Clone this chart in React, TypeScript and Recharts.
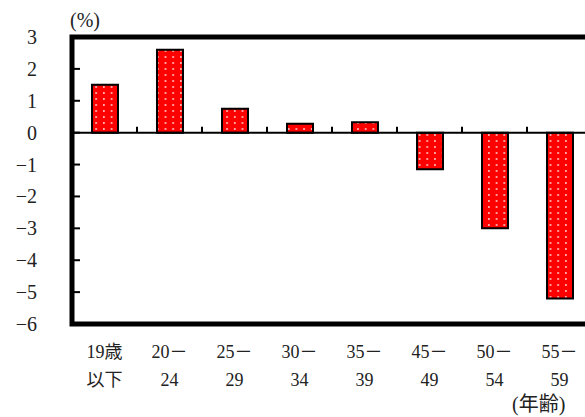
import { BarChart, Bar, XAxis, YAxis, ReferenceLine, ReferenceArea } from "recharts";

// 年齢階級別の変化率 (%)
const ageTop = ["19歳", "20－", "25－", "30－", "35－", "45－", "50－", "55－"];
const ageBottom = ["以下", "24", "29", "34", "39", "49", "54", "59"];
const changeRate = [1.5, 2.6, 0.75, 0.28, 0.33, -1.15, -3.0, -5.2];
const yTicks = [3, 2, 1, 0, -1, -2, -3, -4, -5, -6];

const data = ageTop.map((top, i) => ({
  age: `${top}${ageBottom[i]}`,
  value: changeRate[i],
}));

const FONT = "'Liberation Serif', 'Noto Sans CJK JP', serif";
const Y_TICK_MARGIN = 35;

function AgeTick(props: any) {
  const { x, y, index } = props;
  return (
    <text x={x} y={y} textAnchor="middle" style={{ fontFamily: FONT }} fontSize={18} fill="#222">
      <tspan x={x} dy={34}>{ageTop[index]}</tspan>
      <tspan x={x} dy={28}>{ageBottom[index]}</tspan>
    </text>
  );
}

// y tick: label on the left, short tick pointing into the plot
function ValueTick(props: any) {
  const { x, y, payload } = props;
  const edge = x + Y_TICK_MARGIN;
  return (
    <g>
      <line x1={edge} x2={edge + 8} y1={y} y2={y} stroke="#000" strokeWidth={2} />
      <text x={x} y={y} dy={7} textAnchor="end" style={{ fontFamily: FONT }} fontSize={20} fill="#222">
        {String(payload.value).replace("-", "−")}
      </text>
    </g>
  );
}

// zero line with small upward ticks at category boundaries
function ZeroLine(props: any) {
  const { x1, y1, x2, y2 } = props;
  const n = data.length;
  const step = (x2 - x1) / n;
  const ticks = [];
  for (let i = 1; i < n; i++) {
    const tx = x1 + step * i;
    ticks.push(<line key={i} x1={tx} x2={tx} y1={y1} y2={y1 - 6} stroke="#000" strokeWidth={2} />);
  }
  return (
    <g>
      <line x1={x1} y1={y1} x2={x2} y2={y2} stroke="#000" strokeWidth={2} />
      {ticks}
    </g>
  );
}

export default function App() {
  return (
    <div style={{ position: "absolute", left: 0, top: 0, width: 585, height: 417, overflow: "hidden", background: "#fff" }}>
      <BarChart
        width={600}
        height={417}
        data={data}
        margin={{ top: 37, right: 8, bottom: 63, left: 0 }}
        barSize={26}
      >
        <defs>
          <pattern id="dots" width="7.7" height="6" patternUnits="userSpaceOnUse">
            <rect width="7.7" height="6" fill="#ff0000" />
            <circle cx="3.8" cy="3" r="0.9" fill="#ffe0e0" />
          </pattern>
        </defs>
        <XAxis
          dataKey="age"
          height={30}
          axisLine={false}
          tickLine={false}
          tickSize={0}
          tickMargin={0}
          interval={0}
          tick={<AgeTick />}
        />
        <YAxis
          type="number"
          domain={[-6, 3]}
          ticks={yTicks}
          interval={0}
          width={72}
          axisLine={false}
          tickLine={false}
          tickSize={0}
          tickMargin={Y_TICK_MARGIN}
          tick={<ValueTick />}
        />
        <ReferenceLine y={0} shape={<ZeroLine />} />
        <Bar
          dataKey="value"
          fill="url(#dots)"
          stroke="#000"
          strokeWidth={2}
          isAnimationActive={false}
        />
        <ReferenceArea y1={-6} y2={3} fill="none" stroke="#000" strokeWidth={5} ifOverflow="visible" />
      </BarChart>
      <div
        style={{
          position: "absolute",
          left: 70,
          top: 8,
          fontFamily: FONT,
          fontSize: 20,
          color: "#222",
          lineHeight: "24px",
        }}
      >
        (%)
      </div>
      <div
        style={{
          position: "absolute",
          left: 512,
          top: 391,
          fontFamily: FONT,
          fontSize: 20,
          color: "#222",
          lineHeight: "26px",
          whiteSpace: "nowrap",
        }}
      >
        (年齢)
      </div>
    </div>
  );
}
